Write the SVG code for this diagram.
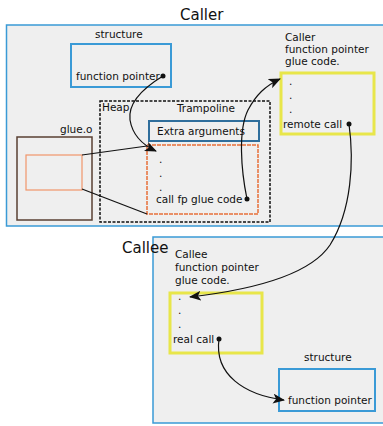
<svg xmlns="http://www.w3.org/2000/svg" width="383" height="426" viewBox="0 0 383 426">
<defs>
<style>
text{font-family:"DejaVu Sans",sans-serif;font-size:10.5px;fill:#111}
.title{font-size:15px}
.region{fill:#efefef;stroke:#3a9ad6;stroke-width:1.5}
.struct{fill:none;stroke:#3a9ad6;stroke-width:2}
.yellow{fill:none;stroke:#e8e64a;stroke-width:3}
.conn{fill:none;stroke:#111;stroke-width:1.2}
.dot{fill:#111}
</style>
<marker id="ah" viewBox="0 0 12 10" refX="11" refY="5" markerWidth="12" markerHeight="10" markerUnits="userSpaceOnUse" orient="auto">
<path d="M0,0 L12,5 L0,10 L3,5 Z" fill="#111"/>
</marker>
</defs>
<rect width="383" height="426" fill="#fff"/>
<g id="caller">
<rect class="region" x="6.5" y="25" width="380" height="201"/>
<text class="title" x="180" y="20">Caller</text>
</g>
<g id="callee">
<rect class="region" x="153" y="237" width="233" height="186"/>
<text class="title" x="122" y="253">Callee</text>
</g>
<g id="structure-caller">
<text x="95" y="38">structure</text>
<rect class="struct" x="71" y="44" width="100" height="43"/>
<text x="76" y="80">function pointer</text>
</g>
<g id="heap">
<rect x="100" y="101" width="170" height="121" fill="none" stroke="#111" stroke-width="1.5" stroke-dasharray="3,1.5"/>
<text x="102" y="111">Heap</text>
<text x="177" y="112">Trampoline</text>
</g>
<g id="extra-args">
<rect x="149" y="121" width="110" height="20" fill="none" stroke="#2f6e9c" stroke-width="2"/>
<text x="157" y="135">Extra arguments</text>
</g>
<g id="trampoline-code">
<rect x="147" y="145" width="111" height="69" fill="none" stroke="#e8703a" stroke-width="1.5" stroke-dasharray="4,1"/>
<text x="159" y="163">.</text>
<text x="159" y="177">.</text>
<text x="159" y="191">.</text>
<text x="156" y="203">call fp glue code</text>
</g>
<g id="glue-o">
<text x="60" y="133">glue.o</text>
<rect x="17" y="137" width="75" height="83" fill="none" stroke="#5a4033" stroke-width="1.5"/>
<rect x="26" y="155" width="56" height="35" fill="none" stroke="#f0956a" stroke-width="1.2"/>
</g>
<g id="caller-glue">
<text x="285" y="41">Caller</text>
<text x="285" y="53">function pointer</text>
<text x="285" y="65">glue code.</text>
<rect class="yellow" x="281" y="73" width="93" height="61"/>
<text x="289" y="85">.</text>
<text x="289" y="99">.</text>
<text x="289" y="113">.</text>
<text x="283" y="128">remote call</text>
</g>
<g id="callee-glue">
<text x="175" y="258">Callee</text>
<text x="175" y="271">function pointer</text>
<text x="175" y="284">glue code.</text>
<rect class="yellow" x="170" y="293" width="92" height="60"/>
<text x="178" y="300">.</text>
<text x="178" y="314">.</text>
<text x="178" y="328">.</text>
<text x="173" y="343">real call</text>
</g>
<g id="structure-callee">
<text x="304" y="361">structure</text>
<rect class="struct" x="279" y="369" width="96" height="42"/>
<text x="288" y="404">function pointer</text>
</g>
<g id="connectors">
<line class="conn" x1="82" y1="155" x2="147" y2="146"/>
<line class="conn" x1="82" y1="189" x2="147" y2="214"/>
<path class="conn" d="M163,76 C140,90 128,105 130,120 C133,138 145,146 156,151" marker-end="url(#ah)"/>
<circle class="dot" cx="163" cy="76" r="2.5"/>
<path class="conn" d="M247,199 C241,170 238,130 248,110 C256,95 265,86 280,79" marker-end="url(#ah)"/>
<circle class="dot" cx="247" cy="199" r="2.5"/>
<path class="conn" d="M349,124 C354,160 352,210 330,245 C310,275 250,290 190,297" marker-end="url(#ah)"/>
<circle class="dot" cx="349" cy="124" r="2.5"/>
<path class="conn" d="M219,339 C214,375 245,395 284,400" marker-end="url(#ah)"/>
<circle class="dot" cx="219" cy="339" r="2.5"/>
</g>
</svg>
